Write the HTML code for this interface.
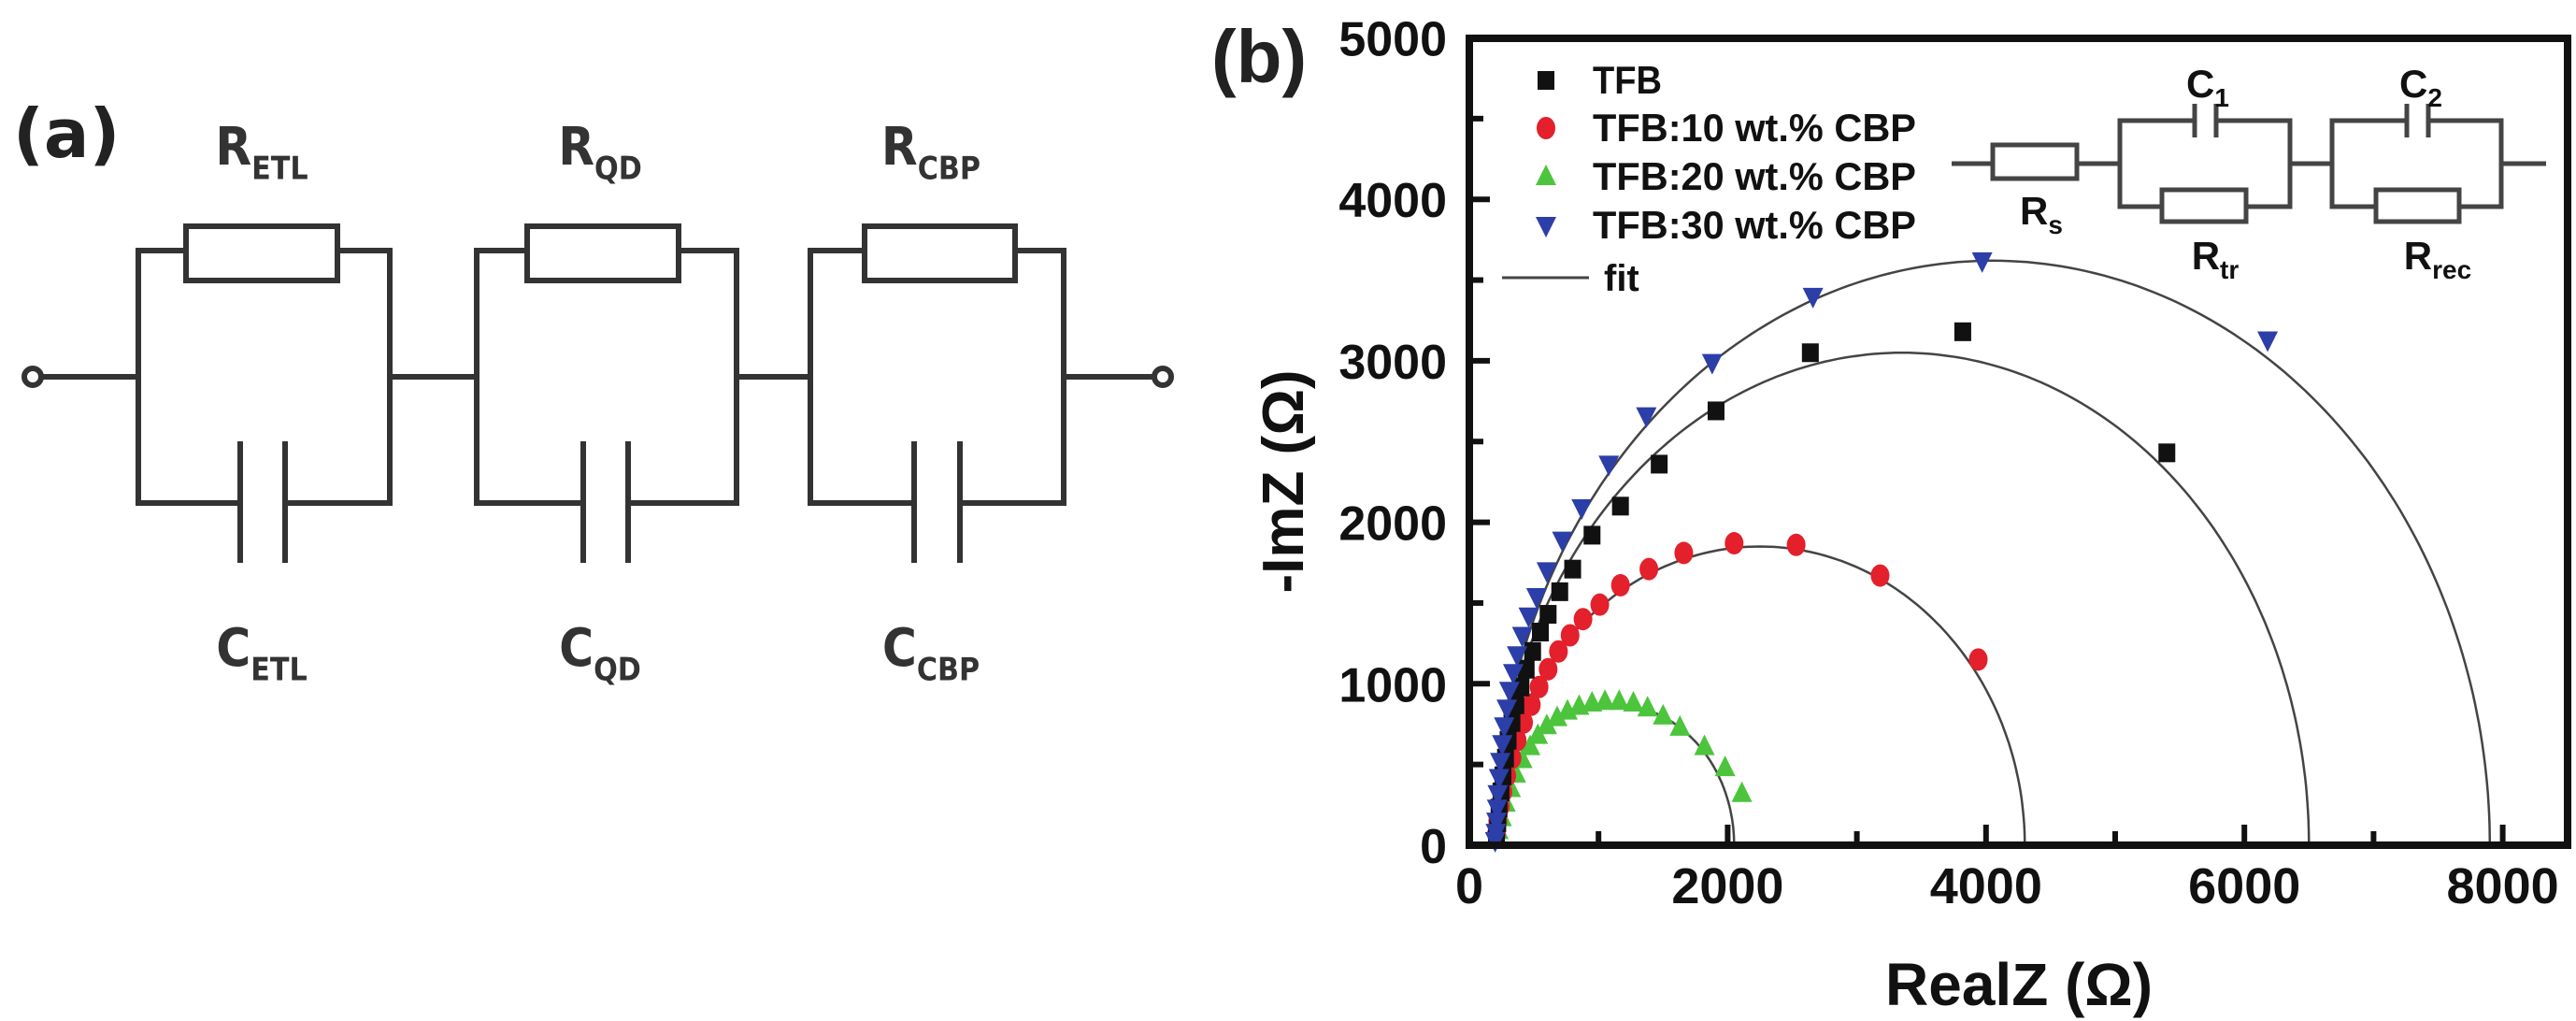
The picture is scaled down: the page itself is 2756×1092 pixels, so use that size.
<!DOCTYPE html>
<html><head><meta charset="utf-8"><style>
html,body{margin:0;padding:0;background:#fff;width:2756px;height:1092px;overflow:hidden}
svg{display:block}
</style></head><body>
<svg id="fig" width="2756" height="1092" viewBox="0 0 2756 1092" xmlns="http://www.w3.org/2000/svg">
<g id="circuitA" stroke="#333" stroke-width="6" fill="none">
  <circle cx="35" cy="403" r="9"/>
  <circle cx="1244" cy="403" r="9"/>
  <line x1="44" y1="403" x2="148" y2="403"/>
  <line x1="417" y1="403" x2="510" y2="403"/>
  <line x1="788" y1="403" x2="867" y2="403"/>
  <line x1="1138" y1="403" x2="1235" y2="403"/>
</g>
<g id="chartB"></g>
</svg>
<script>
// ---- data ----
const seriesNames = ["TFB","TFB:10 wt.% CBP","TFB:20 wt.% CBP","TFB:30 wt.% CBP"];
const tfbX = [5400,3820,2640,1910,1470,1170,950,800,700,610,550,490,440,400,360,330,300,280,260,245,230,220,210];
const tfbY = [2430,3180,3050,2690,2360,2100,1920,1710,1570,1430,1320,1200,1090,980,870,760,650,540,430,330,230,140,60];
const cbp10X = [3940,3180,2530,2050,1660,1390,1170,1010,880,780,690,610,540,480,420,370,330,290,260,240,220,210];
const cbp10Y = [1150,1670,1860,1870,1810,1710,1610,1490,1400,1300,1200,1090,980,870,760,650,540,430,330,240,150,70];
const cbp20X = [2110,1980,1820,1630,1500,1380,1270,1160,1050,950,850,760,680,600,530,470,410,360,320,280,250,225,210];
const cbp20Y = [320,480,610,730,800,850,880,890,890,880,860,830,790,740,680,610,530,440,350,260,170,90,30];
const cbp30X = [6180,3970,2660,1880,1370,1080,870,720,600,520,460,410,370,340,310,290,270,255,240,230,220,215,210,205,200];
const cbp30Y = [3130,3620,3400,2990,2660,2360,2090,1890,1700,1540,1420,1300,1180,1070,960,850,740,630,520,420,320,230,150,80,30];
const fitStart = [200,200,200,200];
const fitEnd = [6500,4300,2050,7900];
const fitPeak = [3050,1850,870,3620];
const xTicks = [0,2000,4000,6000,8000];
const yTicks = [0,1000,2000,3000,4000,5000];

const NS="http://www.w3.org/2000/svg";
function mk(tag,attrs,parent){const e=document.createElementNS(NS,tag);for(const k in attrs)e.setAttribute(k,attrs[k]);(parent||document.getElementById('fig')).appendChild(e);return e;}
const X0=1572, X1=2747, Y0=904, Y1=41;
const sx=v=>X0+v*138.2/1000;
const sy=v=>Y0-v*172.7/1000;
const chart=document.getElementById('chartB');
const colors=["#111","#e3202b","#4cc43c","#2c3ea8"];
const FONT='"Liberation Sans", Arial, sans-serif';

// ---- circuit (a) ----
const ca=document.getElementById('circuitA');
const blocks=[[148,417,199,361,257,305],[510,788,564,726,624,672],[867,1138,925,1086,978,1027]];
blocks.forEach((b,i)=>{
  const [l,r,rl,rr,c1,c2]=b;
  const g=mk('g',{},ca);
  
  
  mk('path',{d:`M${l} 403 V268 H${rl} M${rr} 268 H${r} V538 H${c2} M${c1} 538 H${l} V403 M${r} 403 V268`},g);
  const rb=mk('rect',{x:rl,y:242,width:rr-rl,height:58},g);
  
  
  mk('line',{x1:c1,y1:472,x2:c1,y2:602},g);
  mk('line',{x1:c2,y1:472,x2:c2,y2:602},g);
});
function subLabel(x,y,main,sub,size,name,parent){
  const t=mk('text',{x:x,y:y,'font-family':'"DejaVu Sans Condensed","Liberation Sans",sans-serif','font-weight':'bold','font-size':size,fill:'#333','text-anchor':'middle'},parent);
  
  
  const a=mk('tspan',{},t);a.textContent=main;
  const b=mk('tspan',{dy:size*0.28,'font-size':size*0.6},t);b.textContent=sub;
  return t;
}
const la=mk('text',{x:14,y:168,'font-family':'"DejaVu Sans","Liberation Sans",sans-serif','font-weight':'bold','font-size':72,fill:'#222'});


la.textContent='(a)';
[["ETL",280],["QD",642],["CBP",996]].forEach(([s,x])=>{
  subLabel(x,176,'R',s,56,'label-r-'+s.toLowerCase());
  subLabel(x,712,'C',s,56,'label-c-'+s.toLowerCase());
});

// ---- chart (b) ----
const lb=mk('text',{x:1296,y:88,'font-family':FONT,'font-weight':'bold','font-size':80,fill:'#222'});


lb.textContent='(b)';

// fits
fitStart.forEach((s,i)=>{
  const c=(s+fitEnd[i])/2, r=(fitEnd[i]-s)/2;
  let d='';
  for(let k=0;k<=180;k++){const a=Math.PI*k/180;const xv=c-r*Math.cos(a), yv=fitPeak[i]*Math.sin(a);d+=(k?'L':'M')+sx(xv).toFixed(1)+' '+sy(yv).toFixed(1);}
  const p=mk('path',{d:d,fill:'none',stroke:'#444','stroke-width':2.5},chart);
  
  
});
function marker(type,x,y,col,parent){
  let e;
  if(type===0)e=mk('rect',{x:x-9,y:y-10,width:18,height:20,fill:col},parent);
  else if(type===1)e=mk('ellipse',{cx:x,cy:y,rx:10,ry:12,fill:col},parent);
  else if(type===2)e=mk('path',{d:`M${x} ${y-13} L${x+11} ${y+9} L${x-11} ${y+9}Z`,fill:col},parent);
  else e=mk('path',{d:`M${x} ${y+13} L${x+11} ${y-9} L${x-11} ${y-9}Z`,fill:col},parent);
  return e;
}
const allX=[tfbX,cbp10X,cbp20X,cbp30X], allY=[tfbY,cbp10Y,cbp20Y,cbp30Y];
const order=[2,1,0,3];
order.forEach(i=>{
  const g=mk('g',{},chart);
  
  
  allX[i].forEach((xv,k)=>{
    const m=marker(i,sx(xv),sy(allY[i][k]),colors[i],g);
    
    
  });
});
// frame
const fr=mk('rect',{x:X0,y:Y1,width:X1-X0,height:Y0-Y1,fill:'none',stroke:'#111','stroke-width':8},chart);


for(let v=0;v<=5000;v+=500){
  const len=(v%1000===0)?22:15;
  mk('line',{x1:X0,y1:sy(v),x2:X0+len,y2:sy(v),stroke:'#111','stroke-width':6},chart);
}
yTicks.forEach(v=>{
  const t=mk('text',{x:1548,y:sy(v)+19,'font-family':FONT,'font-weight':'bold','font-size':52,'text-anchor':'end',fill:'#111'},chart);
  
  
  t.textContent=v;
});
for(let v=1000;v<=8000;v+=1000){
  const len=(v%2000===0)?22:15;
  mk('line',{x1:sx(v),y1:Y0,x2:sx(v),y2:Y0-len,stroke:'#111','stroke-width':6},chart);
}
xTicks.forEach(v=>{
  const t=mk('text',{x:sx(v),y:966,'font-family':FONT,'font-weight':'bold','font-size':54,'text-anchor':'middle',fill:'#111'},chart);
  
  
  t.textContent=v;
});
const xt=mk('text',{x:2160,y:1075,'font-family':FONT,'font-weight':'bold','font-size':64,'text-anchor':'middle',fill:'#111'},chart);


xt.textContent='RealZ (Ω)';
const yt=mk('text',{x:0,y:0,'font-family':FONT,'font-weight':'bold','font-size':62,'text-anchor':'middle',fill:'#111',transform:'translate(1394 515) rotate(-90)'},chart);


yt.textContent='-ImZ (Ω)';
const lg=mk('g',{},chart);


const legY=[86,137,189,241];
seriesNames.forEach((n,i)=>{
  const e=mk('g',{},lg);
  
  
  marker(i,1654,legY[i],colors[i],e);
  const t=mk('text',{x:1704,y:legY[i]+14,'font-family':FONT,'font-weight':'bold','font-size':42,fill:'#111',textLength:n.length>4?346:74,lengthAdjust:'spacingAndGlyphs'},e);
  t.textContent=n;
});
mk('line',{x1:1607,y1:297,x2:1700,y2:297,stroke:'#444','stroke-width':3},lg);
const ft=mk('text',{x:1716,y:311,'font-family':FONT,'font-weight':'bold','font-size':40,fill:'#111'},lg);
ft.textContent='fit';
const ic=mk('g',{stroke:'#444','stroke-width':5,fill:'none'},chart);


mk('path',{d:'M2088 175 H2132 M2222 175 H2268 M2450 175 H2495 M2676 175 H2724'},ic);
mk('rect',{x:2132,y:155,width:90,height:36},ic);
[[2268,2450,2348,2371,2313,2403],[2495,2676,2575,2598,2542,2631]].forEach(b=>{
  const [l,r,c1,c2,rl,rr]=b;
  mk('path',{d:`M${l} 175 V129 H${c1} M${c2} 129 H${r} V221 H${rr} M${rl} 221 H${l} V175 M${r} 175 V129 M${c1} 111 V147 M${c2} 111 V147`},ic);
  mk('rect',{x:rl,y:203,width:rr-rl,height:34},ic);
});
function insetLabel(x,y,m,s,name){
  const t=mk('text',{x:x,y:y,'font-family':FONT,'font-weight':'bold','font-size':42,fill:'#111','text-anchor':'middle'},chart);
  
  
  const a=mk('tspan',{},t);a.textContent=m;
  const b=mk('tspan',{dy:10,'font-size':28},t);b.textContent=s;
}
insetLabel(2362,104,'C','1','label-c1');
insetLabel(2590,104,'C','2','label-c2');
insetLabel(2184,240,'R','s','label-rs');
insetLabel(2370,288,'R','tr','label-rtr');
insetLabel(2608,288,'R','rec','label-rrec');
</script>
</body></html>
